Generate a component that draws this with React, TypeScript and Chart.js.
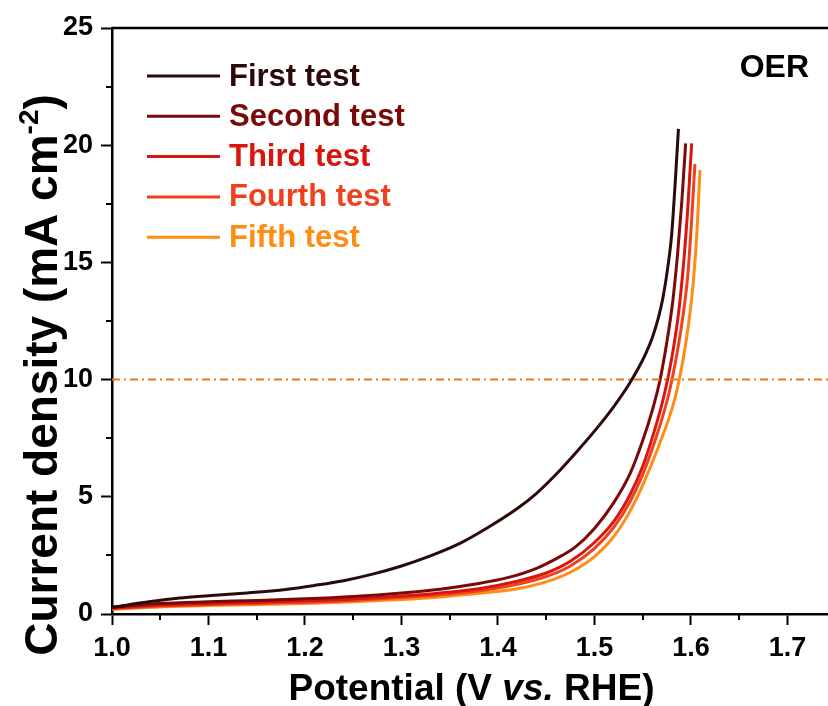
import { useEffect, useRef } from "react";
import { Chart, registerables } from "chart.js";

Chart.register(...registerables);

const FONT = 'Arial, "Liberation Sans", Helvetica, sans-serif';

// Axis ticks
const xTicks = [1.0, 1.1, 1.2, 1.3, 1.4, 1.5, 1.6, 1.7];
const xMinorTicks = [1.05, 1.15, 1.25, 1.35, 1.45, 1.55, 1.65];
const yTicks = [0, 5, 10, 15, 20, 25];
const yMinorTicks = [2.5, 7.5, 12.5, 17.5, 22.5];
const xMin = 1.0;
const xMax = 1.742;
const yMin = 0;
const yMax = 25;

// Series labels and colours
const testLabels = ["First test", "Second test", "Third test", "Fourth test", "Fifth test"];
const testColors = ["#2b0a0a", "#7a0a0a", "#d8160e", "#f0411f", "#ff8c14"];

// LSV curves: potential (V vs. RHE) and current density (mA cm-2)
const firstV = [1.0, 1.04, 1.07, 1.1, 1.14, 1.18, 1.21, 1.24, 1.27, 1.3, 1.33, 1.36, 1.39, 1.42, 1.44, 1.46, 1.48, 1.5, 1.52, 1.535, 1.545, 1.553, 1.56, 1.566, 1.571, 1.576, 1.58, 1.5835, 1.587];
const firstJ = [0.28, 0.53, 0.68, 0.78, 0.9, 1.05, 1.22, 1.42, 1.7, 2.05, 2.48, 3.0, 3.7, 4.5, 5.15, 5.95, 6.85, 7.8, 8.85, 9.75, 10.45, 11.1, 11.8, 12.6, 13.5, 14.8, 16.2, 18.3, 20.7];

const secondV = [1.0, 1.05, 1.1, 1.15, 1.2, 1.25, 1.3, 1.34, 1.38, 1.41, 1.44, 1.46, 1.48, 1.5, 1.52, 1.537, 1.55, 1.56, 1.568, 1.575, 1.581, 1.586, 1.5905, 1.5945];
const secondJ = [0.3, 0.45, 0.52, 0.58, 0.65, 0.75, 0.9, 1.06, 1.3, 1.55, 1.95, 2.35, 2.85, 3.65, 4.75, 6.0, 7.4, 8.7, 10.0, 11.6, 13.3, 15.3, 17.6, 20.08];

const thirdV = [1.0, 1.05, 1.1, 1.15, 1.2, 1.25, 1.3, 1.34, 1.38, 1.42, 1.45, 1.475, 1.5, 1.52, 1.537, 1.55, 1.562, 1.572, 1.58, 1.587, 1.592, 1.5965, 1.6007];
const thirdJ = [0.25, 0.38, 0.45, 0.5, 0.56, 0.64, 0.77, 0.9, 1.08, 1.4, 1.75, 2.25, 3.05, 3.95, 5.1, 6.3, 7.8, 9.3, 10.9, 12.8, 14.8, 17.2, 20.08];

const fourthV = [1.0, 1.05, 1.1, 1.15, 1.2, 1.25, 1.3, 1.34, 1.38, 1.42, 1.45, 1.475, 1.5, 1.52, 1.537, 1.55, 1.562, 1.5765, 1.585, 1.592, 1.597, 1.6005, 1.6041];
const fourthJ = [0.22, 0.34, 0.4, 0.45, 0.5, 0.58, 0.7, 0.82, 0.98, 1.27, 1.6, 2.05, 2.8, 3.7, 4.8, 5.95, 7.3, 9.3, 11.0, 12.8, 14.6, 16.7, 19.2];

const fifthV = [1.0, 1.05, 1.1, 1.15, 1.2, 1.25, 1.3, 1.34, 1.38, 1.42, 1.45, 1.475, 1.5, 1.52, 1.537, 1.55, 1.565, 1.5834, 1.592, 1.598, 1.6025, 1.6062, 1.6093];
const fifthJ = [0.2, 0.3, 0.36, 0.4, 0.45, 0.52, 0.62, 0.73, 0.88, 1.08, 1.37, 1.78, 2.45, 3.3, 4.4, 5.5, 7.0, 9.2, 10.9, 12.5, 14.2, 16.3, 18.94];

const seriesV = [firstV, secondV, thirdV, fourthV, fifthV];
const seriesJ = [firstJ, secondJ, thirdJ, fourthJ, fifthJ];

// Benchmark current density line
const benchmarkJ = 10;
const benchmarkColor = "#f07814";

const panelLabel = "OER";

const decorations = {
  id: "decorations",
  afterDraw(chart: any) {
    const { ctx, chartArea, scales } = chart;
    const xs = scales.x;
    const ys = scales.y;
    ctx.save();

    // top frame line
    ctx.strokeStyle = "#000";
    ctx.lineWidth = 2.5;
    ctx.beginPath();
    ctx.moveTo(chartArea.left, chartArea.top);
    ctx.lineTo(chartArea.right, chartArea.top);
    ctx.stroke();

    // minor ticks
    ctx.lineWidth = 2;
    ctx.beginPath();
    xMinorTicks.forEach((v) => {
      const px = Math.round(xs.getPixelForValue(v));
      ctx.moveTo(px, chartArea.bottom);
      ctx.lineTo(px, chartArea.bottom + 6);
    });
    yMinorTicks.forEach((v) => {
      const py = Math.round(ys.getPixelForValue(v));
      ctx.moveTo(chartArea.left, py);
      ctx.lineTo(chartArea.left - 6, py);
    });
    ctx.stroke();

    // legend
    ctx.font = `bold 31px ${FONT}`;
    ctx.textBaseline = "middle";
    ctx.textAlign = "left";
    testLabels.forEach((label, i) => {
      const y = 76 + i * 40.3;
      ctx.strokeStyle = testColors[i];
      ctx.lineWidth = 3;
      ctx.beginPath();
      ctx.moveTo(147, y);
      ctx.lineTo(220, y);
      ctx.stroke();
      ctx.fillStyle = testColors[i];
      ctx.fillText(label, 229, y + 1);
    });

    // panel label
    ctx.fillStyle = "#000";
    ctx.font = `bold 32px ${FONT}`;
    ctx.textAlign = "right";
    ctx.textBaseline = "alphabetic";
    ctx.fillText(panelLabel, 809, 77);

    // x-axis title: Potential (V vs. RHE)
    const xSize = 37;
    const parts = [
      { t: "Potential (V ", italic: false },
      { t: "vs.", italic: true },
      { t: " RHE)", italic: false },
    ];
    const widths = parts.map((p) => {
      ctx.font = `${p.italic ? "italic " : ""}bold ${xSize}px ${FONT}`;
      return ctx.measureText(p.t).width;
    });
    const total = widths.reduce((a, b) => a + b, 0);
    let cx = 471.5 - total / 2;
    ctx.textAlign = "left";
    parts.forEach((p, i) => {
      ctx.font = `${p.italic ? "italic " : ""}bold ${xSize}px ${FONT}`;
      ctx.fillText(p.t, cx, 700);
      cx += widths[i];
    });

    // y-axis title: Current density (mA cm-2)
    const ySize = 46;
    ctx.translate(57, 375);
    ctx.rotate(-Math.PI / 2);
    ctx.font = `bold ${ySize}px ${FONT}`;
    const main = "Current density (mA cm";
    const sup = "-2";
    const close = ")";
    const wMain = ctx.measureText(main).width;
    const wClose = ctx.measureText(close).width;
    ctx.font = `bold ${Math.round(ySize * 0.6)}px ${FONT}`;
    const wSup = ctx.measureText(sup).width;
    const yTotal = wMain + wSup + wClose;
    let tx = -yTotal / 2;
    ctx.font = `bold ${ySize}px ${FONT}`;
    ctx.fillText(main, tx, 0);
    tx += wMain;
    ctx.font = `bold ${Math.round(ySize * 0.6)}px ${FONT}`;
    ctx.fillText(sup, tx, -ySize * 0.42);
    tx += wSup;
    ctx.font = `bold ${ySize}px ${FONT}`;
    ctx.fillText(close, tx, 0);

    ctx.restore();
  },
};

export default function App() {
  const canvasRef = useRef<HTMLCanvasElement | null>(null);

  useEffect(() => {
    document.body.style.margin = "0";
    const canvas = canvasRef.current;
    if (!canvas) return;

    const curveSets = seriesV.map((vs, i) => ({
      label: testLabels[i],
      data: vs.map((v, k) => ({ x: v, y: seriesJ[i][k] })),
      borderColor: testColors[i],
      backgroundColor: testColors[i],
      borderWidth: 3,
      pointRadius: 0,
      cubicInterpolationMode: "monotone" as const,
      fill: false,
    }));

    const chart = new Chart(canvas, {
      type: "line",
      data: {
        datasets: [
          {
            label: "10 mA cm-2",
            data: [
              { x: xMin, y: benchmarkJ },
              { x: xMax, y: benchmarkJ },
            ],
            borderColor: benchmarkColor,
            borderWidth: 2,
            borderDash: [8, 4, 2, 4],
            pointRadius: 0,
            fill: false,
          },
          ...curveSets,
        ],
      },
      options: {
        animation: false,
        responsive: false,
        devicePixelRatio: 1,
        layout: { padding: { top: 28, left: 0, right: 0, bottom: 0 } },
        plugins: {
          legend: { display: false },
          tooltip: { enabled: false },
          title: { display: false },
        },
        scales: {
          x: {
            type: "linear",
            min: xMin,
            max: xMax,
            afterBuildTicks: (s: any) => {
              s.ticks = xTicks.map((v) => ({ value: v }));
            },
            afterFit: (s: any) => {
              s.height = 92;
            },
            ticks: {
              color: "#000",
              font: { family: FONT, size: 27, weight: "bold" },
              padding: 7,
              maxRotation: 0,
              autoSkip: false,
              callback: (v: any) => Number(v).toFixed(1),
            },
            grid: {
              drawOnChartArea: false,
              drawTicks: true,
              tickLength: 11,
              tickWidth: 2,
              tickColor: "#000",
            },
            border: { display: true, color: "#000", width: 2.5 },
          },
          y: {
            type: "linear",
            min: yMin,
            max: yMax,
            afterBuildTicks: (s: any) => {
              s.ticks = yTicks.map((v) => ({ value: v }));
            },
            afterFit: (s: any) => {
              s.width = 112;
            },
            ticks: {
              color: "#000",
              font: { family: FONT, size: 27, weight: "bold" },
              padding: 8,
              autoSkip: false,
              callback: (v: any) => String(v),
            },
            grid: {
              drawOnChartArea: false,
              drawTicks: true,
              tickLength: 11,
              tickWidth: 2,
              tickColor: "#000",
            },
            border: { display: true, color: "#000", width: 2.5 },
          },
        },
      },
      plugins: [decorations],
    });

    return () => chart.destroy();
  }, []);

  return (
    <div style={{ width: 828, height: 706, background: "#fff" }}>
      <canvas ref={canvasRef} width={828} height={706} />
    </div>
  );
}
